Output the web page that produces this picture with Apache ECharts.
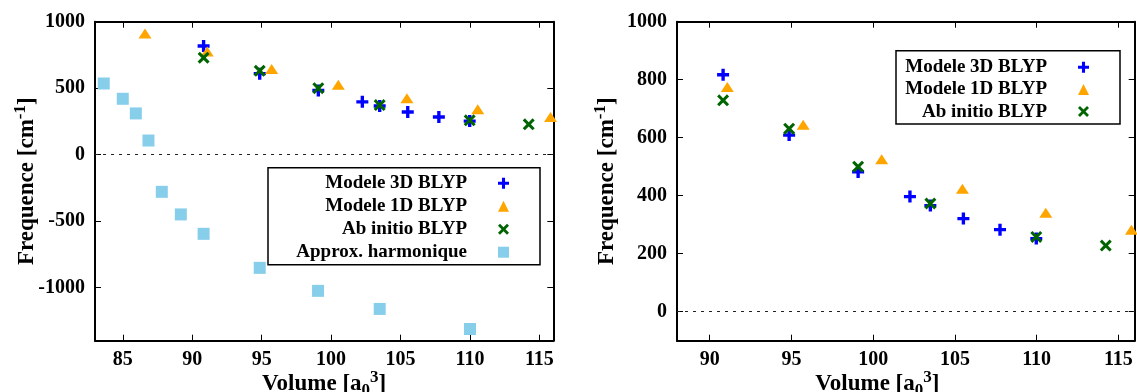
<!DOCTYPE html>
<html>
<head>
<meta charset="utf-8">
<script src="https://cdn.jsdelivr.net/npm/echarts@6/dist/echarts.min.js"></script>
<style>
html,body{margin:0;padding:0;background:#fff;}
#chart{width:1137px;height:392px;}
</style>
</head>
<body>
<div id="chart"></div>
<script>
// ---- data ----
const seriesNames = ['Modele 3D BLYP', 'Modele 1D BLYP', 'Ab initio BLYP', 'Approx. harmonique'];
const vol3D = [90.82, 94.86, 99.08, 102.25, 103.5, 105.52, 107.76, 109.98];
const freq3D = [817, 609, 482, 397, 366, 321, 283, 252];
const vol1D = [86.6, 91.08, 95.72, 100.52, 105.46, 110.56, 115.8];
const freq1D = [912, 775, 645, 526, 424, 341, 283];
const volAbInitio = [90.82, 94.86, 99.08, 103.5, 109.98, 114.23];
const freqAbInitio = [729, 631, 500, 373, 258, 228];
const volHarm = [83.63, 85.0, 85.94, 86.85, 87.81, 89.18, 90.82, 94.86, 99.06, 103.5, 110.0];
const freqHarm = [535, 420, 310, 106, -280, -450, -596, -852, -1025, -1161, -1312];
const xTicksLeft = [85, 90, 95, 100, 105, 110, 115];
const yTicksLeft = [-1000, -500, 0, 500, 1000];
const xTicksRight = [90, 95, 100, 105, 110, 115];
const yTicksRight = [0, 200, 400, 600, 800, 1000];

// ---- styles ----
const FONT = "'Liberation Serif', 'DejaVu Serif', serif";
const PLUS = 'path://M3.6,0h2.8v3.6h3.6v2.8h-3.6v3.6h-2.8v-3.6h-3.6v-2.8h3.6z';
const CROSS = 'path://M0,1.8L1.8,0L5,3.2L8.2,0L10,1.8L6.8,5L10,8.2L8.2,10L5,6.8L1.8,10L0,8.2L3.2,5Z';
const styles = [
  {symbol: PLUS, size: 12, color: '#0000ff'},
  {symbol: 'triangle', size: [13, 10], color: '#ffa500'},
  {symbol: CROSS, size: 12, color: '#006400'},
  {symbol: 'rect', size: 12, color: '#87ceeb'}
];
const zip = (xs, ys) => xs.map((x, i) => [x, ys[i]]);
const datasets = [zip(vol3D, freq3D), zip(vol1D, freq1D), zip(volAbInitio, freqAbInitio), zip(volHarm, freqHarm)];

function mkAxis(grid, min, max, ticks, pos, showLabel, margin) {
  return {
    type: 'value', gridIndex: grid, min: min, max: max, position: pos,
    nameMoveOverlap: false,
    axisLine: {show: true, onZero: false, lineStyle: {color: '#000', width: 2}},
    splitLine: {show: false},
    axisTick: {show: true, inside: true, length: 6, customValues: ticks, lineStyle: {color: '#000', width: 1}},
    axisLabel: {show: showLabel, customValues: ticks, margin: margin, color: '#000', fontFamily: FONT, fontWeight: 'bold', fontSize: 20,
      formatter: v => String(v)}
  };
}
const nameRich = {
  b: {fontFamily: FONT, fontWeight: 'bold', fontSize: 23, color: '#000', lineHeight: 30},
  sup: {fontFamily: FONT, fontWeight: 'bold', fontSize: 17, color: '#000', lineHeight: 16, verticalAlign: 'top'},
  sub: {fontFamily: FONT, fontWeight: 'bold', fontSize: 17, color: '#000', lineHeight: 14, verticalAlign: 'bottom'}
};
const yName = '{b|Frequence [cm}{sup|-1}{b|]}';
const xName = '{b|Volume [a}{sub|0}{sup|3}{b|]}';

const xAxes = [
  mkAxis(0, 83, 116, xTicksLeft, 'bottom', true, 9),
  mkAxis(0, 83, 116, xTicksLeft, 'top', false, 9),
  mkAxis(1, 88, 116, xTicksRight, 'bottom', true, 9),
  mkAxis(1, 88, 116, xTicksRight, 'top', false, 9)
];
xAxes[0].name = xName; xAxes[0].nameLocation = 'middle'; xAxes[0].nameGap = 28;
xAxes[0].nameTextStyle = {rich: nameRich};
xAxes[2].name = xName; xAxes[2].nameLocation = 'middle'; xAxes[2].nameGap = 28;
xAxes[2].nameTextStyle = {rich: nameRich, padding: [0, 57, 0, 0]};
const yAxes = [
  mkAxis(0, -1400, 1000, yTicksLeft, 'left', true, 10),
  mkAxis(0, -1400, 1000, yTicksLeft, 'right', false, 10),
  mkAxis(1, -100, 1000, yTicksRight, 'left', true, 10),
  mkAxis(1, -100, 1000, yTicksRight, 'right', false, 10)
];
yAxes[0].name = yName; yAxes[0].nameLocation = 'middle'; yAxes[0].nameGap = 53; yAxes[0].nameRotate = 90;
yAxes[0].nameTextStyle = {rich: nameRich};
yAxes[2].name = yName; yAxes[2].nameLocation = 'middle'; yAxes[2].nameGap = 55; yAxes[2].nameRotate = 90;
yAxes[2].nameTextStyle = {rich: nameRich};

const series = [];
function addSeries(grid, idx, withZero) {
  const st = styles[idx];
  const s = {
    name: seriesNames[idx], type: 'scatter',
    xAxisIndex: grid * 2, yAxisIndex: grid * 2,
    data: datasets[idx],
    symbol: st.symbol, symbolSize: st.size,
    itemStyle: {color: st.color, opacity: 1},
    emphasis: {disabled: true},
    animation: false, z: 3
  };
  if (withZero) {
    s.markLine = {
      silent: true, symbol: 'none', animation: false,
      label: {show: false},
      lineStyle: {color: '#222', width: 1, type: [3, 5]},
      data: [{yAxis: 0}]
    };
  }
  series.push(s);
}
for (let i = 0; i < 4; i++) addSeries(0, i, i === 0);
for (let i = 0; i < 3; i++) addSeries(1, i, i === 0);

function mkLegend(names, left, top, textW, pad, gap) {
  return {
    orient: 'vertical', left: left, top: top,
    data: names, align: 'right',
    itemWidth: 11, itemHeight: 11, itemGap: gap,
    padding: pad,
    borderColor: '#000', borderWidth: 1.5,
    selectedMode: false,
    formatter: n => '{a|' + n + '}',
    textStyle: {
      color: '#000', fontFamily: FONT, fontWeight: 'bold', fontSize: 19,
      rich: {a: {width: textW, align: 'right', lineHeight: 20, padding: [0, 26, 0, 0], fontFamily: FONT, fontWeight: 'bold', fontSize: 19, color: '#000'}}
    }
  };
}

const option = {
  backgroundColor: '#fff',
  animation: false,
  grid: [
    {left: 95, top: 21.7, width: 458.3, height: 319, outerBoundsMode: 'none', containLabel: false},
    {left: 677, top: 21.7, width: 457.7, height: 319, outerBoundsMode: 'none', containLabel: false}
  ],
  xAxis: xAxes,
  yAxis: yAxes,
  legend: [
    mkLegend(seriesNames, 268, 167.7, 189, [6, 31, 3, 10], 4),
    mkLegend(seriesNames.slice(0, 3), 896, 50.7, 147, [7, 31, 3, 4], 3.2)
  ],
  series: series
};
const chart = echarts.init(document.getElementById('chart'), null, {renderer: 'canvas'});
chart.setOption(option);
</script>
</body>
</html>
